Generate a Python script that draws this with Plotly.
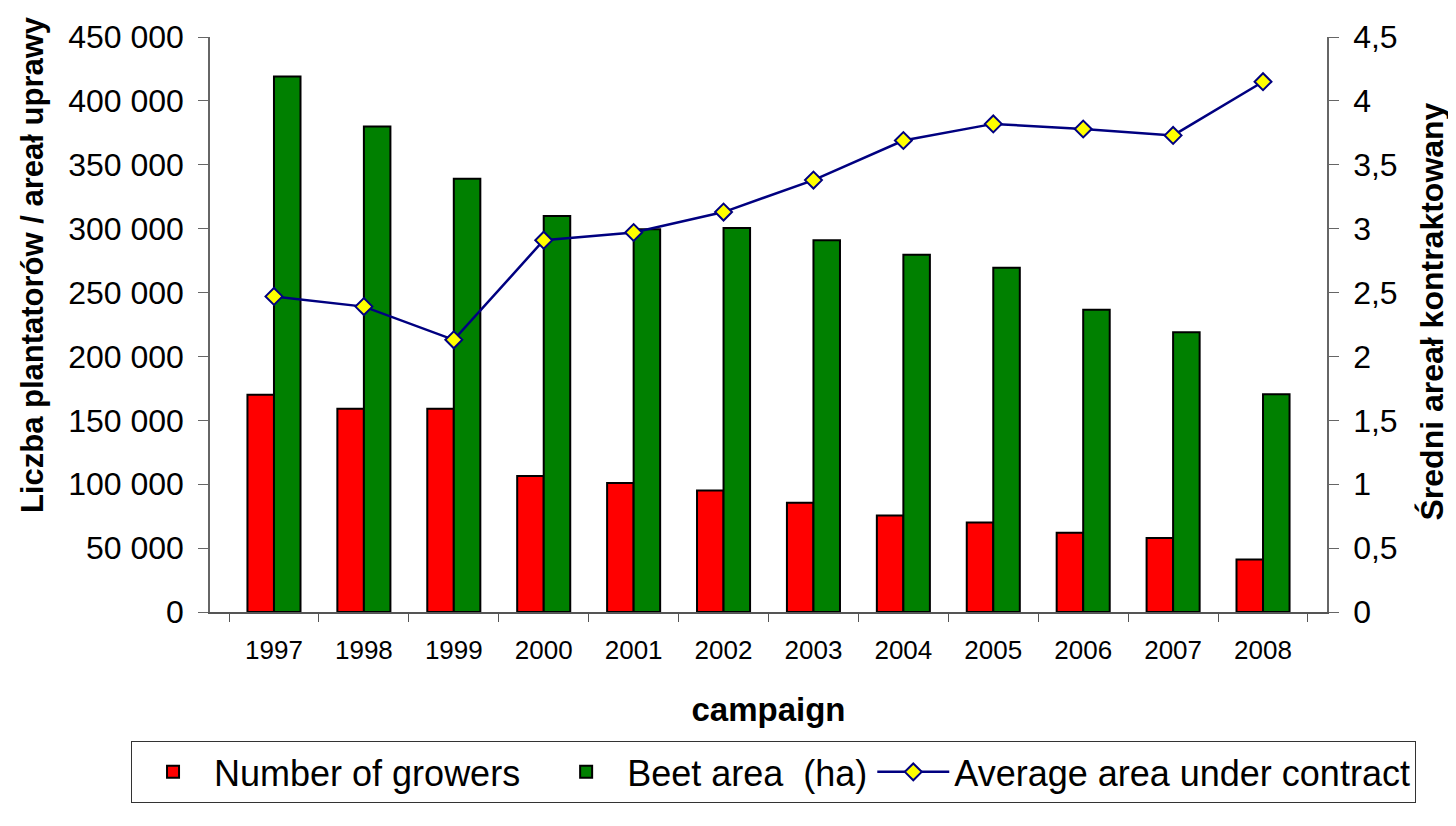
import plotly.graph_objects as go

years = ["1997", "1998", "1999", "2000", "2001", "2002", "2003", "2004", "2005", "2006", "2007", "2008"]
growers = [170000, 159000, 159000, 106500, 101000, 95000, 85500, 75500, 70000, 62000, 58000, 41000]
beet_area = [419000, 380000, 339000, 310000, 299500, 300500, 291000, 279500, 269500, 236500, 219000, 170500]
avg_area = [2.47, 2.39, 2.13, 2.91, 2.97, 3.13, 3.38, 3.69, 3.82, 3.78, 3.73, 4.15]

left_ticks = [0, 50000, 100000, 150000, 200000, 250000, 300000, 350000, 400000, 450000]
left_ticktext = ["0", "50 000", "100 000", "150 000", "200 000", "250 000", "300 000", "350 000", "400 000", "450 000"]
right_ticks = [0, 0.5, 1, 1.5, 2, 2.5, 3, 3.5, 4, 4.5]
right_ticktext = ["0", "0,5", "1", "1,5", "2", "2,5", "3", "3,5", "4", "4,5"]

FONT = "Arial, 'Liberation Sans', sans-serif"
PAD = "\u00a0\u00a0"

fig = go.Figure()
fig.add_trace(go.Bar(
    x=years, y=growers, name="Number of growers" + PAD,
    marker=dict(color="#FF0000", line=dict(color="black", width=2)),
))
fig.add_trace(go.Bar(
    x=years, y=beet_area, name="Beet area \u00a0(ha)",
    marker=dict(color="#008000", line=dict(color="black", width=2)),
))
fig.add_trace(go.Scatter(
    x=years, y=avg_area, name="Average area under contract", yaxis="y2",
    mode="lines+markers",
    line=dict(color="#000080", width=2.5),
    marker=dict(symbol="diamond", size=13, color="#FFFF00", line=dict(color="#000080", width=2)),
))

fig.update_layout(
    width=1448, height=810,
    paper_bgcolor="white", plot_bgcolor="white",
    margin=dict(l=202, r=129, t=29, b=206, autoexpand=False),
    barmode="group", bargap=0.41, bargroupgap=0,
    font=dict(family=FONT, color="black"),
    showlegend=True,
    legend=dict(
        orientation="h", x=-0.0707, xanchor="left", y=-0.2243, yanchor="top",
        font=dict(size=36, family=FONT, color="black"),
        bordercolor="#333333", borderwidth=1,
        itemwidth=72, traceorder="normal",
    ),
    xaxis=dict(
        type="category", automargin=False,
        showline=True, linecolor="#555555", linewidth=1.5,
        ticks="outside", ticklen=8, tickcolor="#555555", tickson="boundaries",
        tickfont=dict(size=26, family=FONT, color="black"),
        ticklabelstandoff=14,
        showgrid=False, zeroline=False,
        title=dict(text="<b>campaign</b>", font=dict(size=33, family=FONT, color="black"), standoff=34),
    ),
    yaxis=dict(
        range=[0, 450000], automargin=False,
        tickvals=left_ticks, ticktext=left_ticktext,
        showline=True, linecolor="#666666", linewidth=1.5,
        ticks="outside", ticklen=10, tickcolor="#666666",
        tickfont=dict(size=32, family=FONT, color="black"),
        ticklabelstandoff=8,
        showgrid=False, zeroline=False,
    ),
    yaxis2=dict(
        range=[0, 4.5], overlaying="y", side="right", automargin=False,
        tickvals=right_ticks, ticktext=right_ticktext,
        showline=True, linecolor="#666666", linewidth=1.5,
        ticks="outside", ticklen=10, tickcolor="#666666",
        tickfont=dict(size=32, family=FONT, color="black"),
        ticklabelstandoff=8,
        showgrid=False, zeroline=False,
    ),
    annotations=[
        dict(text="<b>Liczba plantatorów / areał uprawy</b>", xref="paper", yref="paper",
             x=-0.1594, y=0.605, textangle=-90, showarrow=False,
             font=dict(size=31, family=FONT, color="black"), xanchor="center", yanchor="middle"),
        dict(text="<b>Średni areał kontraktowany</b>", xref="paper", yref="paper",
             x=1.094, y=0.5226, textangle=-90, showarrow=False,
             font=dict(size=32, family=FONT, color="black"), xanchor="center", yanchor="middle"),
    ],
)

fig.write_html("out.html")
